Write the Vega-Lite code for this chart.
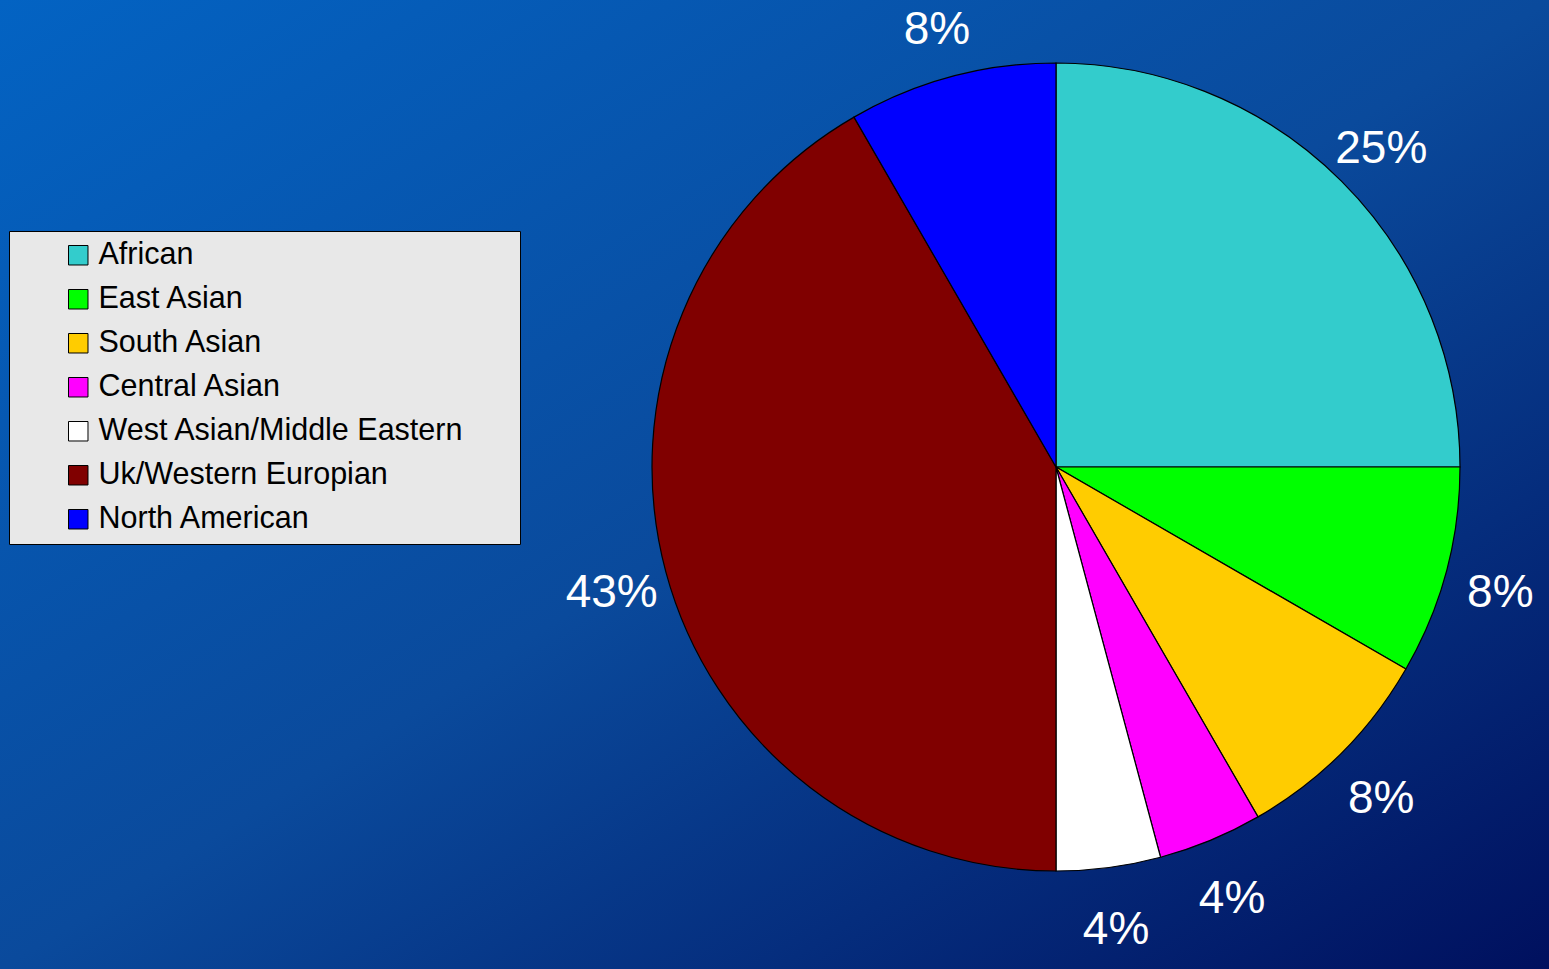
{
  "$schema": "https://vega.github.io/schema/vega-lite/v6.json",
  "autosize": "none",
  "width": 1549,
  "height": 969,
  "padding": 0,
  "background": "#0a4a9c",
  "config": {"view": {"stroke": null}, "font": "Liberation Sans"},
  "datasets": {
    "groups": [
      {"idx": 1, "group": "African", "share": 6, "label": "25%"},
      {"idx": 2, "group": "East Asian", "share": 2, "label": "8%"},
      {"idx": 3, "group": "South Asian", "share": 2, "label": "8%"},
      {"idx": 4, "group": "Central Asian", "share": 1, "label": "4%"},
      {"idx": 5, "group": "West Asian/Middle Eastern", "share": 1, "label": "4%"},
      {"idx": 6, "group": "Uk/Western Europian", "share": 10, "label": "43%"},
      {"idx": 7, "group": "North American", "share": 2, "label": "8%"}
    ]
  },
  "layer": [
    {
      "data": {"values": [{"panel": "background"}]},
      "mark": {
        "type": "rect",
        "color": {
          "gradient": "linear",
          "x1": 0, "y1": 0, "x2": 1, "y2": 1,
          "stops": [
            {"offset": 0, "color": "#0363c3"},
            {"offset": 0.5, "color": "#0a4a9c"},
            {"offset": 1, "color": "#00105e"}
          ]
        }
      },
      "encoding": {}
    },
    {
      "data": {"name": "groups"},
      "mark": {"type": "arc", "x": 1056, "y": 467, "outerRadius": 404, "stroke": "#000000", "strokeWidth": 1.2},
      "encoding": {
        "theta": {"field": "share", "type": "quantitative", "stack": true},
        "order": {"field": "idx", "type": "quantitative"},
        "color": {
          "field": "group",
          "type": "nominal",
          "scale": {
            "domain": ["African", "East Asian", "South Asian", "Central Asian", "West Asian/Middle Eastern", "Uk/Western Europian", "North American"],
            "range": ["#33cccc", "#00ff00", "#ffcc00", "#ff00ff", "#ffffff", "#800000", "#0000ff"]
          },
          "legend": {
            "title": null,
            "orient": "none",
            "legendX": 9,
            "legendY": 231,
            "padding": 9,
            "fillColor": "#e8e8e8",
            "strokeColor": "#000000",
            "symbolType": "square",
            "symbolSize": 380,
            "symbolStrokeColor": "#000000",
            "symbolStrokeWidth": 1,
            "symbolOpacity": 1,
            "symbolOffset": 45,
            "labelOffset": 5,
            "labelFont": "Liberation Sans",
            "labelFontSize": 30.5,
            "labelColor": "#000000",
            "labelLimit": 0,
            "rowPadding": 13,
            "labelExpr": "datum.label + '\u2800\u2800'"
          }
        }
      }
    },
    {
      "data": {"name": "groups"},
      "mark": {"type": "text", "x": 1056, "y": 467, "radius": 460, "dy": 7, "fontSize": 46, "font": "Liberation Sans", "color": "#ffffff", "align": "center", "baseline": "middle"},
      "encoding": {
        "theta": {"field": "share", "type": "quantitative", "stack": true},
        "order": {"field": "idx", "type": "quantitative"},
        "text": {"field": "label", "type": "nominal"}
      }
    }
  ]
}
